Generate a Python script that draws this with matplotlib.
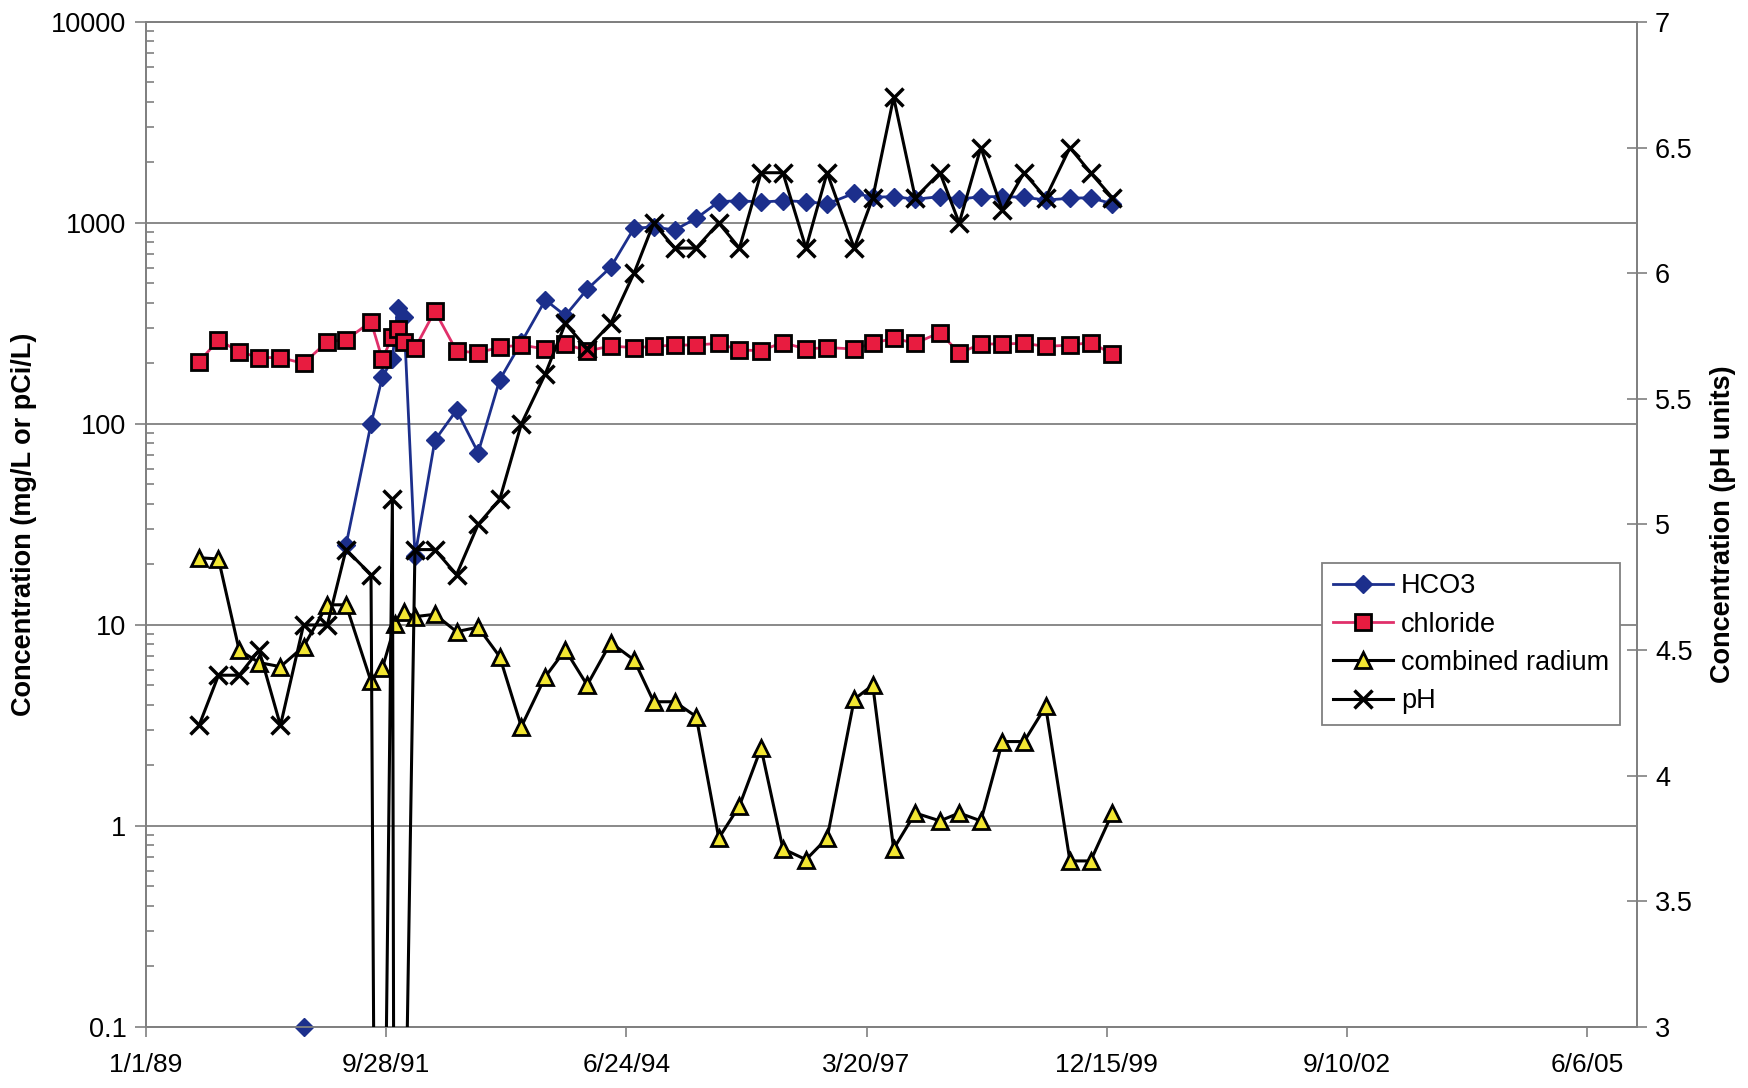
import matplotlib.pyplot as plt
import numpy as np
import pandas as pd
from matplotlib.ticker import FixedLocator, NullFormatter, LogLocator, FuncFormatter

plt.rcParams['font.family'] = ['Liberation Sans', 'DejaVu Sans']

# sampling dates shared by HCO3 and chloride
dates = ['1989-08-10', '1989-10-30', '1990-01-24', '1990-04-17', '1990-07-15',
         '1990-10-19', '1991-01-26', '1991-04-14', '1991-07-27', '1991-09-12',
         '1991-10-24', '1991-11-15', '1991-12-11', '1992-01-26', '1992-04-18',
         '1992-07-17', '1992-10-15', '1993-01-13', '1993-04-13', '1993-07-22',
         '1993-10-13', '1994-01-12', '1994-04-20', '1994-07-26', '1994-10-16',
         '1995-01-11', '1995-04-11', '1995-07-14', '1995-10-08', '1996-01-06',
         '1996-04-06', '1996-07-11', '1996-10-07', '1997-01-28', '1997-04-15',
         '1997-07-11', '1997-10-09', '1998-01-20', '1998-04-10', '1998-07-09',
         '1998-10-07', '1999-01-05', '1999-04-05', '1999-07-15', '1999-10-09',
         '2000-01-08']

hco3 = [np.nan, np.nan, np.nan, np.nan, np.nan, 0.1, np.nan, 25, 100, 171,
        210, 377, 342, 22, 83, 117, 72, 166, 255, 414,
        346, 468, 602, 942, 955, 923, 1054, 1276, 1291, 1270,
        1291, 1276, 1245, 1406, 1343, 1352, 1313, 1352, 1313, 1352,
        1352, 1343, 1300, 1327, 1336, 1245]

chloride = [204, 262, 229, 214, 214, 200, 257, 262, 323, 210,
            272, 296, 255, 238, 365, 231, 226, 241, 247, 236,
            250, 231, 244, 240, 243, 247, 247, 252, 233, 232,
            254, 236, 240, 236, 252, 267, 252, 285, 225, 250,
            250, 252, 243, 247, 254, 223]

radium_dates = ['1989-08-10', '1989-10-30', '1990-01-24', '1990-04-17', '1990-07-15',
                '1990-10-19', '1991-01-26', '1991-04-14', '1991-07-27', '1991-09-12',
                '1991-11-05', '1991-12-11', '1992-01-26', '1992-04-18', '1992-07-17',
                '1992-10-15', '1993-01-13', '1993-04-13', '1993-07-22', '1993-10-13',
                '1994-01-12', '1994-04-20', '1994-07-26', '1994-10-16', '1995-01-11',
                '1995-04-11', '1995-07-14', '1995-10-08', '1996-01-06', '1996-04-06',
                '1996-07-11', '1996-10-07', '1997-01-28', '1997-04-15', '1997-07-11',
                '1997-10-09', '1998-01-20', '1998-04-10', '1998-07-09', '1998-10-07',
                '1999-01-05', '1999-04-05', '1999-07-15', '1999-10-09', '2000-01-08']
radium = [21.6, 21.3, 7.5, 6.5, 6.2, 7.8, 12.6, 12.6, 5.24, 6.08,
          10.1, 11.6, 11.0, 11.3, 9.26, 9.75, 6.95, 3.12, 5.53, 7.52,
          5.02, 8.17, 6.70, 4.15, 4.15, 3.50, 0.87, 1.26, 2.44, 0.77,
          0.68, 0.87, 4.27, 5.02, 0.77, 1.16, 1.06, 1.16, 1.06, 2.63,
          2.63, 3.93, 0.67, 0.67, 1.16]

ph_dates = ['1989-08-10', '1989-10-30', '1990-01-24', '1990-04-17', '1990-07-15',
            '1990-10-19', '1991-01-26', '1991-04-14', '1991-07-27', '1991-08-25',
            '1991-10-24', '1991-11-05', '1992-01-26', '1992-04-18', '1992-07-17',
            '1992-10-15', '1993-01-13', '1993-04-13', '1993-07-22', '1993-10-13',
            '1994-01-12', '1994-04-20', '1994-07-26', '1994-10-16', '1995-01-11',
            '1995-04-11', '1995-07-14', '1995-10-08', '1996-01-06', '1996-04-06',
            '1996-07-11', '1996-10-07', '1997-01-28', '1997-04-15', '1997-07-11',
            '1997-10-09', '1998-01-20', '1998-04-10', '1998-07-09', '1998-10-07',
            '1999-01-05', '1999-04-05', '1999-07-15', '1999-10-09', '2000-01-08']
ph = [4.2, 4.4, 4.4, 4.5, 4.2, 4.6, 4.6, 4.9, 4.8, 0,
      5.1, 0, 4.9, 4.9, 4.8, 5.0, 5.1, 5.4, 5.6, 5.8,
      5.7, 5.8, 6.0, 6.2, 6.1, 6.1, 6.2, 6.1, 6.4, 6.4,
      6.1, 6.4, 6.1, 6.3, 6.7, 6.3, 6.4, 6.2, 6.5, 6.25,
      6.4, 6.3, 6.5, 6.4, 6.3]

xtick_labels = ['1/1/89', '9/28/91', '6/24/94', '3/20/97', '12/15/99', '9/10/02', '6/6/05']
x_range = ['1989-01-01', '2005-12-31']
left_ticks = [0.1, 1, 10, 100, 1000, 10000]
right_ticks = [3, 3.5, 4, 4.5, 5, 5.5, 6, 6.5, 7]

d_main = pd.to_datetime(dates)
d_rad = pd.to_datetime(radium_dates)
d_ph = pd.to_datetime(ph_dates)
xticks = pd.to_datetime(xtick_labels, format='%m/%d/%y')

fig = plt.figure(figsize=(17.48, 10.88), dpi=100)
ax = fig.add_axes([0.0835, 0.0561, 0.853, 0.9237])
ax2 = ax.twinx()

grey = '#808080'
navy = '#1c2f8c'

h1, = ax.plot(d_main, hco3, color=navy, lw=2, marker='D', ms=9,
              mfc=navy, mec=navy, label='HCO3', clip_on=False, zorder=3)
h2, = ax.plot(d_main, chloride, color='#e0306a', lw=2, marker='s', ms=11,
              mfc='#e81c40', mec='black', mew=2, label='chloride', zorder=4)
h3, = ax.plot(d_rad, radium, color='black', lw=2.2, marker='^', ms=11,
              mfc='#f2e632', mec='black', mew=2, label='combined radium', zorder=3)
h4, = ax2.plot(d_ph, ph, color='black', lw=2.2, marker='x', ms=13,
               mew=2.5, label='pH', zorder=3)

ax.set_yscale('log')
ax.set_ylim(left_ticks[0], left_ticks[-1])
ax.yaxis.set_major_locator(FixedLocator(left_ticks))
ax.yaxis.set_major_formatter(FuncFormatter(lambda v, p: f'{v:g}'))
ax.yaxis.set_minor_locator(LogLocator(base=10, subs=np.arange(2, 10)))
ax.yaxis.set_minor_formatter(NullFormatter())
ax.tick_params(axis='y', which='major', direction='out', length=8, width=1.2,
               color=grey, labelsize=19.5, pad=6)
ax.tick_params(axis='y', which='minor', direction='in', length=6, width=1.2, color=grey)
ax.grid(axis='y', which='major', color=grey, lw=1.3)

ax.set_xlim(pd.to_datetime(x_range[0]), pd.to_datetime(x_range[1]))
ax.set_xticks(xticks)
ax.set_xticklabels(xtick_labels)
ax.tick_params(axis='x', direction='out', length=7, width=1.2, color=grey,
               labelsize=19, pad=12)

ax2.set_ylim(right_ticks[0], right_ticks[-1])
ax2.set_yticks(right_ticks)
ax2.set_yticklabels([f'{v:g}' for v in right_ticks])
ax2.tick_params(axis='y', direction='inout', length=14, width=1.2, color=grey,
                labelsize=19.5, pad=6)

for a in (ax, ax2):
    for s in a.spines.values():
        s.set_color(grey)
        s.set_linewidth(1.3)

ax.set_ylabel('Concentration (mg/L or pCi/L)', fontsize=19.5, fontweight='bold', labelpad=10)
ax2.set_ylabel('Concentration (pH units)', fontsize=19.5, fontweight='bold', labelpad=12)

leg = ax2.legend(handles=[h1, h2, h3, h4], loc='upper left',
                 bbox_to_anchor=(0.789, 0.462), borderaxespad=0, fontsize=19.5,
                 frameon=True, fancybox=False, framealpha=1, edgecolor=grey,
                 handlelength=2.2, labelspacing=0.45, borderpad=0.4,
                 handletextpad=0.3)
leg.get_frame().set_linewidth(1.3)

fig.savefig('out.png', dpi=100)
